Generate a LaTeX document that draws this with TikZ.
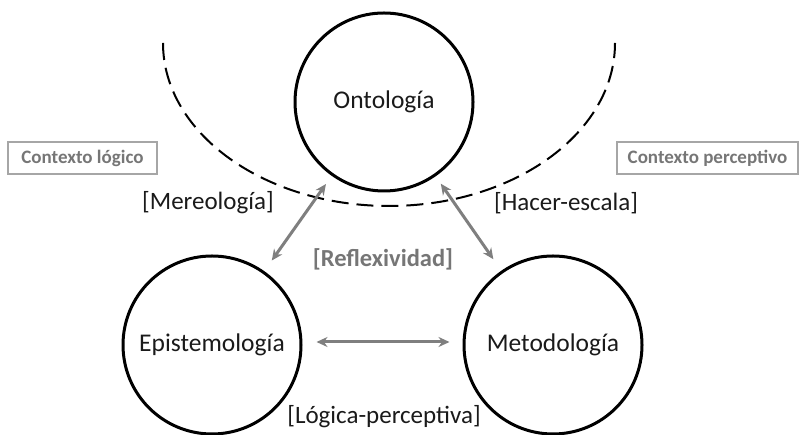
\documentclass[tikz,border=0pt]{standalone}
\usepackage{fontspec}
\setmainfont{Carlito}
\usetikzlibrary{arrows.meta}
\definecolor{arrgray}{HTML}{7F7F7F}
\definecolor{txtgray}{HTML}{767676}
\definecolor{boxgray}{HTML}{A6A6A6}
\definecolor{lbl}{HTML}{1A1A1A}
\begin{document}
\begin{tikzpicture}[x=1pt,y=1pt,
  big/.style={circle,draw=black,line width=3pt,minimum size=178pt,inner sep=0pt,text=lbl,font=\fontsize{25.5}{28}\selectfont},
  ctx/.style={draw=boxgray,line width=1.2pt,text=txtgray,font=\bfseries\fontsize{19}{22}\selectfont,minimum height=32pt,inner xsep=6pt},
  lab/.style={text=lbl,font=\fontsize{25}{28}\selectfont},
  arr/.style={draw=arrgray,line width=3pt,{Stealth[length=11pt,width=10pt]}-{Stealth[length=11pt,width=10pt]}}
]
\useasboundingbox (0,0) rectangle (800,435);
\node[big] (ont) at (384,333) {Ontología};
\node[big] (epi) at (212,90) {Epistemología};
\node[big] (met) at (553,90) {Metodología};
\draw[black,line width=2pt,dash pattern=on 17pt off 8pt] (163,392) arc[start angle=180,end angle=360,x radius=226,y radius=163];
\node[ctx,minimum width=149pt] (cl) at (82.5,277) {Contexto lógico};
\node[ctx,minimum width=181pt] (cp) at (707.5,277) {Contexto perceptivo};
\node[lab] (mer) at (208,232) {[Mereología]};
\node[lab] (hac) at (566,232) {[Hacer-escala]};
\node[text=txtgray,font=\bfseries\fontsize{24.5}{28}\selectfont] (ref) at (383,176) {[Reflexividad]};
\node[lab] (lp) at (384,18) {[Lógica-perceptiva]};
\draw[arr,shorten <=10pt,shorten >=13pt] (ont) -- (epi);
\draw[arr,shorten <=9pt,shorten >=14pt] (ont) -- (met);
\path (epi.east) ++(0,3) coordinate (e1) (met.west) ++(0,3) coordinate (m1);
\draw[arr,shorten <=14pt,shorten >=13pt] (e1) -- (m1);
\end{tikzpicture}
\end{document}
